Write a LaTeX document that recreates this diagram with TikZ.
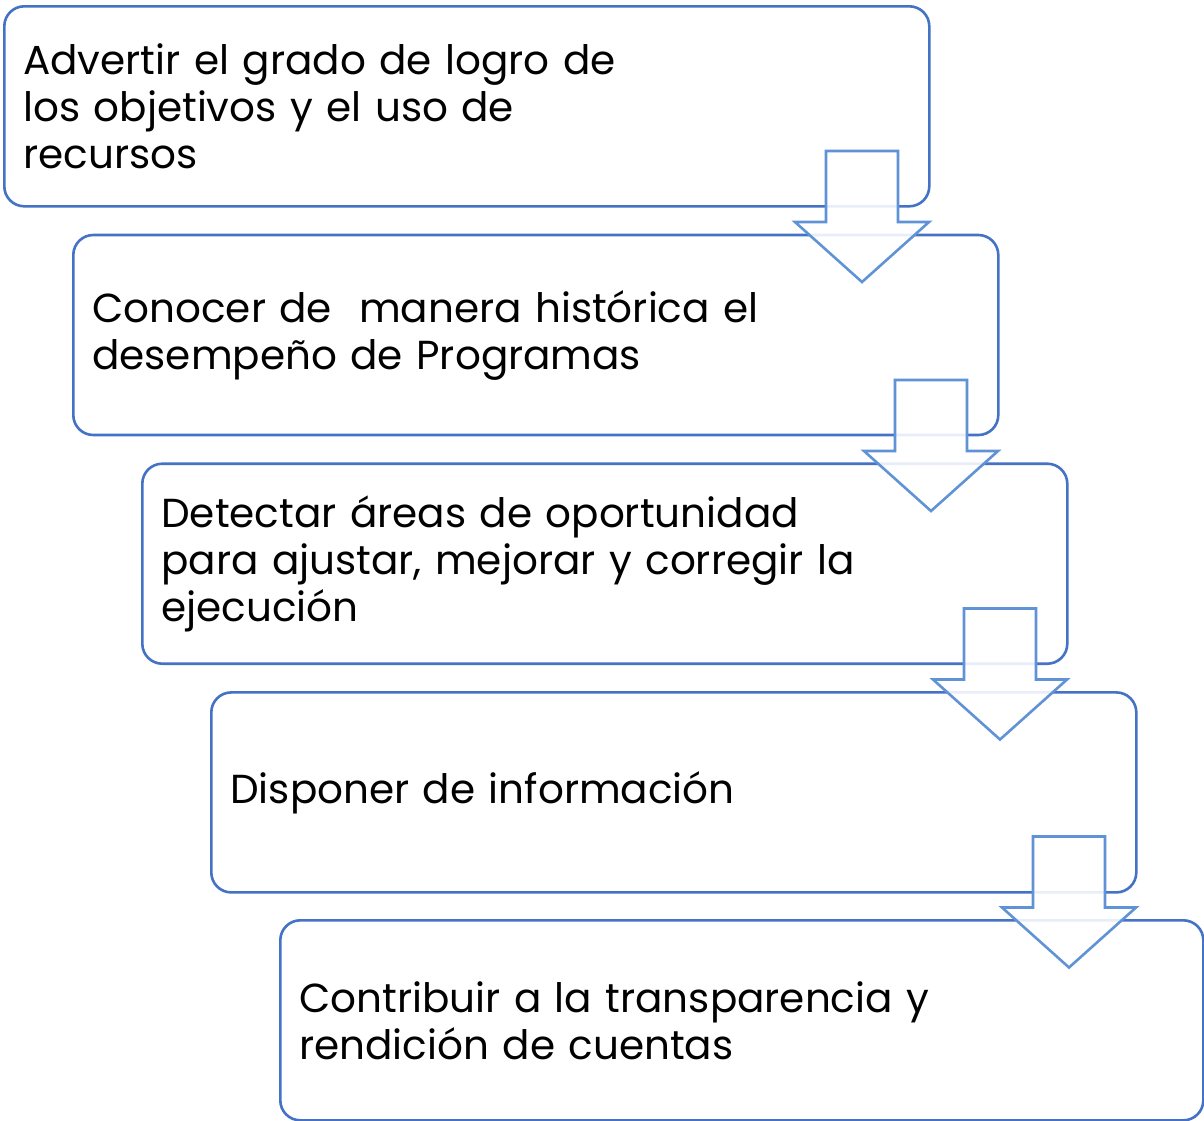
\documentclass[tikz,border=0pt]{standalone}
\usepackage{fontspec}
\setmainfont{Poppins}
\definecolor{boxblue}{HTML}{4472C4}
\definecolor{arrowblue}{HTML}{5F93D6}
\begin{document}
\begin{tikzpicture}[x=1pt,y=-1pt,
  stepbox/.style={draw=boxblue, line width=2.6pt, rounded corners=20pt, fill=white,
    anchor=north west, minimum width=925pt, minimum height=200pt,
    inner xsep=19pt, inner ysep=0pt, text width=887pt, align=left,
    font=\fontsize{40.5}{47}\selectfont},
  downarrow/.pic={\draw[draw=arrowblue, line width=2.6pt, fill=white, fill opacity=0.88, line join=miter]
    (-36,0) -- (36,0) -- (36,71) -- (67,71) -- (0,131) -- (-67,71) -- (-36,71) -- cycle;}
]
\useasboundingbox (0,0) rectangle (1204,1120);
\node[stepbox] (b1) at (3,5) {Advertir el grado de logro de\\los objetivos y el uso de\\recursos};
\node[stepbox] (b2) at (72,233.7) {Conocer de \ manera histórica el\\desempeño de Programas};
\node[stepbox] (b3) at (141,462.4) {Detectar áreas de oportunidad\\para ajustar, mejorar y corregir la\\ejecución};
\node[stepbox] (b4) at (210,691.1) {Disponer de información};
\node[stepbox, minimum width=923pt, text width=885pt] (b5) at (279,919) {Contribuir a la transparencia y\\rendición de cuentas};
\pic at (862,151) {downarrow};
\pic at (931,380) {downarrow};
\pic at (1000,608.5) {downarrow};
\pic at (1069,836.5) {downarrow};
\end{tikzpicture}
\end{document}
